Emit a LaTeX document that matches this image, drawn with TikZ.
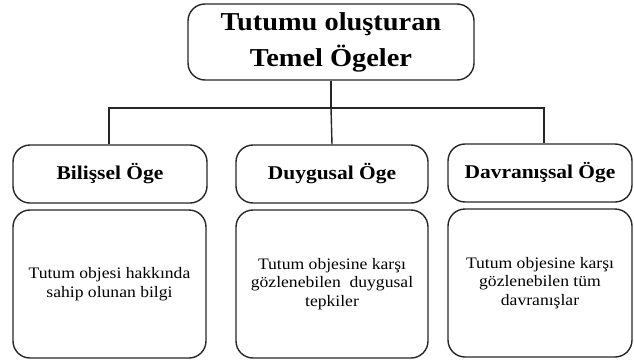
\documentclass[tikz,border=0pt]{standalone}
\usepackage{fontspec}
\setmainfont[FakeStretch=1.1]{Liberation Serif}
\begin{document}
\begin{tikzpicture}[x=1pt,y=-1pt,
  frame/.style={draw=black!85,line width=1.4pt,rounded corners=17pt,inner sep=0pt,align=center,text=black},
  topbox/.style={frame,minimum width=286pt,minimum height=76pt,font=\fontsize{25.8}{36}\selectfont\bfseries},
  headbox/.style={frame,minimum height=58pt,font=\fontsize{19.5}{23}\selectfont\bfseries},
  bodybox/.style={frame,minimum height=148pt,font=\fontsize{16}{18.5}\selectfont},
  conn/.style={draw=black!85,line width=1.4pt}]
\useasboundingbox (0,0) rectangle (634,359);
\node[topbox] (top) at (331,42) {Tutumu oluşturan\\Temel Ögeler};
\node[headbox,minimum width=194pt] (h1) at (110,174) {Bilişsel Öge};
\node[headbox,minimum width=192pt] (h2) at (332,174) {Duygusal Öge};
\node[headbox,minimum width=184pt] (h3) at (540,173) {Davranışsal Öge};
\node[bodybox,minimum width=193pt] (b1) at (109.5,284) {Tutum objesi hakkında\\sahip olunan bilgi};
\node[bodybox,minimum width=192pt] (b2) at (332,284) {Tutum objesine karşı\\gözlenebilen\ \ duygusal\\tepkiler};
\node[bodybox,minimum width=184pt] (b3) at (540,283) {Tutum objesine karşı\\gözlenebilen tüm\\davranışlar};
\coordinate (j) at (331,108);
\coordinate (jl) at (109,108);
\coordinate (jr) at (544,108);
\draw[conn] (top.south) -- (j);
\draw[conn] (jl |- h1.north) -- (jl) -- (jr) -- (jr |- h3.north);
\draw[conn] (j) -- (h2.north);
\end{tikzpicture}
\end{document}
